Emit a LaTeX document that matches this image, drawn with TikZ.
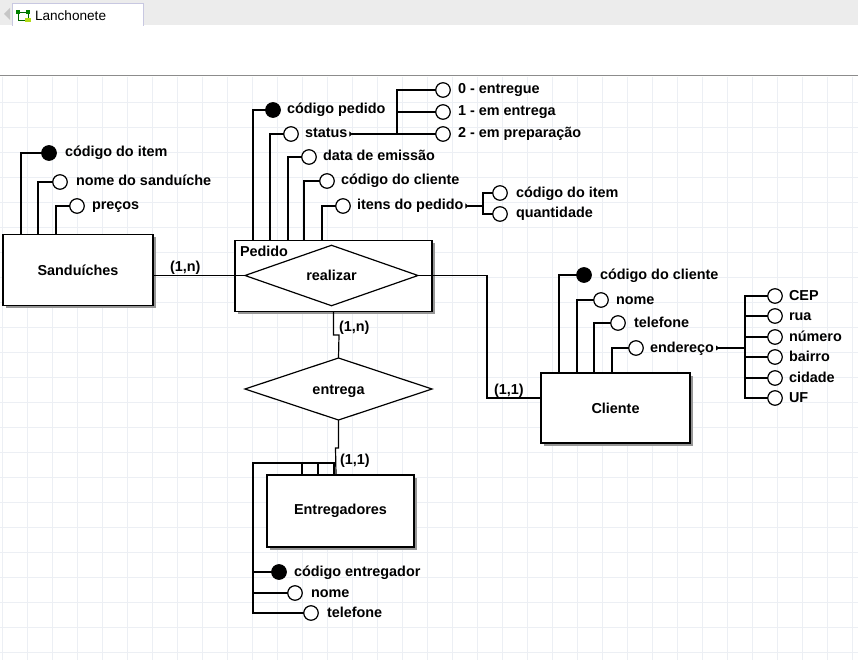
\documentclass[tikz,border=0pt]{standalone}
\usepackage{fontspec}
\setmainfont{Liberation Sans}
\usetikzlibrary{arrows.meta,shapes.geometric,shadows}
\definecolor{gridc}{RGB}{236,239,244}
\definecolor{topg}{RGB}{236,236,236}
\definecolor{tabb}{RGB}{200,200,225}
\definecolor{shadowg}{RGB}{150,150,150}
\definecolor{sepg}{RGB}{140,140,140}
\begin{document}
\begin{tikzpicture}[x=1pt,y=-1pt, line width=1.2pt,
  every node/.style={font=\bfseries\fontsize{14.4}{16}\selectfont, inner sep=0pt, outer sep=0pt},
  attr/.style={circle, draw, fill=white, minimum size=14.5pt},
  pk/.style={circle, draw, fill=black, minimum size=14.5pt},
  lab/.style={anchor=west, text height=10pt, text depth=2pt},
  ent/.style={draw, fill=white, general shadow={fill=shadowg, shadow xshift=2.5pt, shadow yshift=-2.5pt}},
  rel/.style={diamond, draw, fill=white, text height=10pt, text depth=0pt},
  card/.style={anchor=base west},
  tipline/.style={{Triangle[reversed, length=3pt, width=5pt]}-},
  gridline/.style={draw=gridc, line width=0.7pt}]
\useasboundingbox (0,0) rectangle (858,660);
\fill[white] (0,0) rectangle (858,660);
% top bar
\fill[topg] (0,0) rectangle (858,25);
\fill[white] (12,3) rectangle (143,26);
\draw[tabb, line width=0.8pt] (12,26) -- (12,3) -- (143,3) -- (143,26);
\fill[gray!45] (4,14) -- (10,8) -- (10,20) -- cycle;
\draw[green!40!black, line width=0.8pt] (18,12) -- (28,12) -- (28,20) -- (18,20) -- cycle;
\fill[green!50!black] (16,10) rectangle (20,14);
\fill[green!50!black] (26,10) rectangle (30,14);
\fill[yellow!70!green] (25,18) rectangle (31,22);
\node[anchor=west, font=\fontsize{13.6}{15}\selectfont] (tab) at (35,16) {Lanchonete};
\draw[sepg, line width=1pt] (0,76) -- (858,76);
% grid
\foreach \x in {2,27,...,852} \draw[gridline] (\x,77) -- (\x,660);
\foreach \y in {102,127,...,652} \draw[gridline] (0,\y) -- (858,\y);

% ---------- connectors ----------
% Sanduiches attributes
\node[pk] (sa1) at (49,153) {};
\node[attr] (sa2) at (60,182) {};
\node[attr] (sa3) at (77,206) {};
\draw (sa1.west) -| (21,234.5);
\draw (sa2.west) -| (38,234.5);
\draw (sa3.west) -| (56,234.5);
\node[lab] (sl1) at (65,153) {código do item};
\node[lab] (sl2) at (76,182) {nome do sanduíche};
\node[lab] (sl3) at (92,206) {preços};

% Pedido attributes
\node[pk] (pa1) at (273,110) {};
\node[attr] (pa2) at (291,134) {};
\node[attr] (pa3) at (309,157) {};
\node[attr] (pa4) at (327,181) {};
\node[attr] (pa5) at (343,206) {};
\draw (pa1.west) -| (253,240.5);
\draw (pa2.west) -| (270,240.5);
\draw (pa3.west) -| (288,240.5);
\draw (pa4.west) -| (304,240.5);
\draw (pa5.west) -| (322,240.5);
\node[lab] (pl1) at (287,110) {código pedido};
\node[lab] (pl2) at (305,134) {status};
\node[lab] (pl3) at (323,157) {data de emissão};
\node[lab] (pl4) at (341,181) {código do cliente};
\node[lab] (pl5) at (357,206) {itens do pedido};

% status sub-attributes
\coordinate (sj) at (397,134);
\node[attr] (s0) at (443,90) {};
\node[attr] (s1) at (443,112) {};
\node[attr] (s2) at (443,134) {};
\draw[tipline] ([xshift=2pt]pl2.east) -- (sj);
\draw (sj) |- (s0.west);
\draw (sj) |- (s1.west);
\draw (sj) -- (s2.west);
\node[lab] at (458,90) {0 - entregue};
\node[lab] at (458,112) {1 - em entrega};
\node[lab] at (458,134) {2 - em preparação};

% itens sub-attributes
\coordinate (ij) at (483,206);
\node[attr] (i0) at (500,193) {};
\node[attr] (i1) at (500,214) {};
\draw[tipline] ([xshift=2pt]pl5.east) -- (ij);
\draw (ij) |- (i0.west);
\draw (ij) |- (i1.west);
\node[lab] at (516,193) {código do item};
\node[lab] at (516,214) {quantidade};

% Cliente attributes
\node[pk] (ca1) at (584,275) {};
\node[attr] (ca2) at (601,300) {};
\node[attr] (ca3) at (618,323) {};
\node[attr] (ca4) at (636,348) {};
\draw (ca1.west) -| (559,373);
\draw (ca2.west) -| (577,373);
\draw (ca3.west) -| (594,373);
\draw (ca4.west) -| (612,373);
\node[lab] (cl1) at (600,275) {código do cliente};
\node[lab] (cl2) at (616,300) {nome};
\node[lab] (cl3) at (634,323) {telefone};
\node[lab] (cl4) at (650,348) {endereço};

% endereco sub-attributes
\coordinate (ej) at (745,348);
\draw[tipline] ([xshift=2pt]cl4.east) -- (ej);
\foreach \n/\yy/\t in {e1/296/CEP, e2/316/rua, e3/337/número, e4/357/bairro, e5/378/cidade, e6/398/UF}{
  \node[attr] (\n) at (775,\yy) {};
  \draw (ej) |- (\n.west);
  \node[lab] at (789,\yy) {\t};
}

% Entregadores attributes
\node[pk] (ea1) at (279,572) {};
\node[attr] (ea2) at (295,593) {};
\node[attr] (ea3) at (311,613) {};
\draw (ea1.west) -| (253,463) -| (302,475);
\draw (ea2.west) -| (253,463) -| (318,475);
\draw (ea3.west) -| (253,463) -| (334,475);
\node[lab] at (294,572) {código entregador};
\node[lab] at (311,593) {nome};
\node[lab] at (327,613) {telefone};

% ---------- entities ----------
\node[ent, minimum width=150pt, minimum height=71pt] (san) at (78,270) {Sanduíches};
\node[ent, minimum width=197pt, minimum height=71pt] (ped) at (333.5,276) {};
\node[anchor=base west] (pedl) at (240,256) {Pedido};
\node[rel, minimum width=173pt, minimum height=50pt] (real) at (331.5,275.5) {realizar};
\node[ent, minimum width=149pt, minimum height=70pt] (cli) at (615.5,408) {Cliente};
\node[rel, minimum width=187pt, minimum height=62pt] (entg) at (338.5,389) {entrega};
\node[ent, minimum width=147pt, minimum height=72pt] (etg) at (340.5,511) {Entregadores};

% relationship connectors
\draw (real.west) -- (real.west -| san.east);
\coordinate (cj) at (487,398);
\draw (real.east) -| (cj) -- (cj -| cli.west);
\draw (ped.south) -- ++(0,23.5) -- ++(5.5,0) -- (entg.north);
\draw (entg.south) -- ++(0,28) -- ++(-3,0) -- (336,475);

% cardinalities
\node[card] at (170,271) {(1,n)};
\node[card] at (339,331) {(1,n)};
\node[card] at (494,394) {(1,1)};
\node[card] at (340,464) {(1,1)};
\end{tikzpicture}
\end{document}
